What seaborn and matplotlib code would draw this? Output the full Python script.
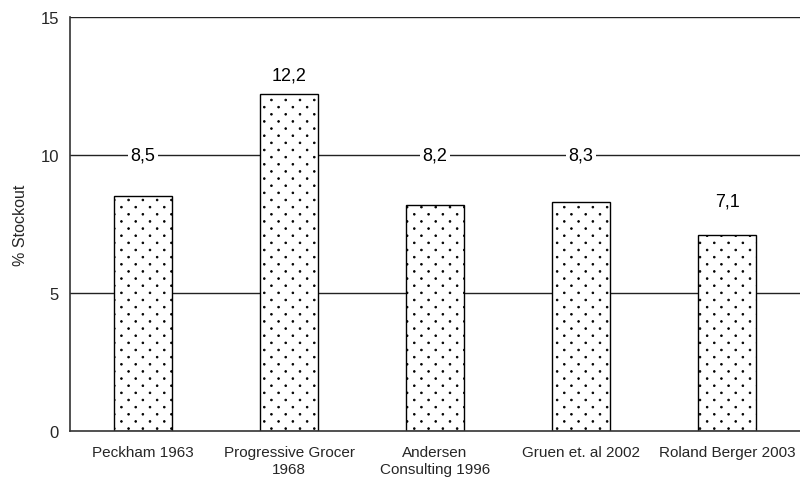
import matplotlib
matplotlib.use("Agg")
import matplotlib.pyplot as plt
import matplotlib.hatch as mhatch
from matplotlib.path import Path
import numpy as np
import seaborn as sns
import pandas as pd

studies = ["Peckham 1963", "Progressive Grocer\n1968", "Andersen\nConsulting 1996",
           "Gruen et. al 2002", "Roland Berger 2003"]
stockout = [8.5, 12.2, 8.2, 8.3, 7.1]
value_labels = ["8,5", "12,2", "8,2", "8,3", "7,1"]
label_y = [10.0, 12.9, 10.0, 10.0, 8.35]
y_ticks = [0, 5, 10, 15]


# sparser staggered dot hatch, like the original chart's fill
class StaggeredDots(mhatch.HatchPatternBase):
    filled = True
    rows = 14
    cols = 7
    size = 0.12

    def __init__(self, hatch, density):
        self.centers = []
        if hatch.count("."):
            for r in range(self.rows + 1):
                if r % 2:
                    xs = [(c + 0.5) / self.cols for c in range(self.cols)]
                else:
                    xs = [c / self.cols for c in range(self.cols + 1)]
                self.centers += [(x, r / self.rows) for x in xs]
        circle = Path.unit_circle()
        self.shape_vertices = circle.vertices
        self.shape_codes = circle.codes
        self.num_vertices = len(self.centers) * len(self.shape_vertices)

    def set_vertices_and_codes(self, vertices, codes):
        shape = self.shape_vertices * self.size / self.rows
        np.concatenate([shape + c for c in self.centers], out=vertices)
        np.concatenate([self.shape_codes] * len(self.centers), out=codes)


mhatch._hatch_types = [t for t in mhatch._hatch_types
                       if t is not mhatch.SmallFilledCircles] + [StaggeredDots]

sns.set_style("white")
plt.rcParams["font.family"] = ["Liberation Sans", "DejaVu Sans"]
plt.rcParams["hatch.color"] = "#444444"
plt.rcParams["hatch.linewidth"] = 0.6

df = pd.DataFrame({"study": studies, "stockout": stockout})

fig = plt.figure(figsize=(8, 4.81), dpi=100)
ax = fig.add_axes([0.0875, 0.1019, 0.9125, 0.8607])

for y in y_ticks[1:]:
    ax.axhline(y, color="#222222", lw=1, zorder=0)

sns.barplot(data=df, x="study", y="stockout", color="white", edgecolor="black",
            linewidth=1, width=0.4, hatch=".", saturation=1, ax=ax, zorder=2)

for i, (lab, ly) in enumerate(zip(value_labels, label_y)):
    ax.text(i, ly, lab, ha="center", va="center", fontsize=13, color="black",
            bbox=dict(boxstyle="square,pad=0.15", fc="white", ec="none"), zorder=3)

ax.set_xlim(-0.5, 4.5)
ax.set_ylim(0, 15)
ax.set_yticks(y_ticks)
ax.set_xticks(range(len(studies)))
ax.set_xticklabels(studies, fontsize=11, linespacing=1.25)
ax.set_xticks([i - 0.5 for i in range(len(studies) + 1)], minor=True)
ax.tick_params(axis="x", which="major", length=0, pad=10)
ax.tick_params(axis="x", which="minor", length=5, width=1, color="#333333", direction="out")
ax.tick_params(axis="y", length=5, width=1, color="#333333", direction="out", labelsize=12, pad=3)
ax.set_xlabel("")
ax.set_ylabel("% Stockout", fontsize=11.5, labelpad=9)

for s in ["top", "right"]:
    ax.spines[s].set_visible(False)
for s in ["left", "bottom"]:
    ax.spines[s].set_color("#333333")
    ax.spines[s].set_linewidth(1.2)

fig.savefig("out.png", dpi=100)
